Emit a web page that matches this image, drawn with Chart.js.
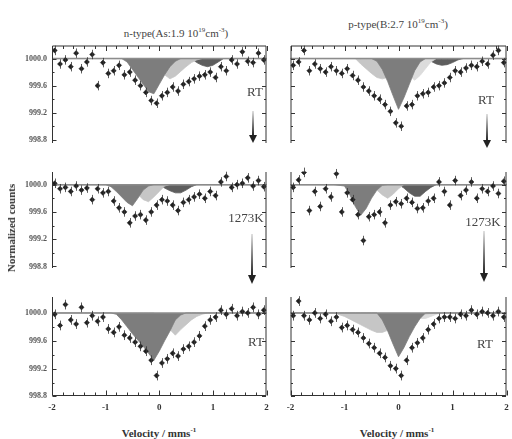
<!DOCTYPE html>
<html>
<head>
<meta charset="utf-8">
<script src="https://cdn.jsdelivr.net/npm/chart.js@4.4.1/dist/chart.umd.min.js"></script>
<style>
  html, body { margin:0; padding:0; background:#fff; }
  #wrap { position:relative; width:512px; height:439px; overflow:hidden;
          font-family:"Liberation Serif","DejaVu Serif",serif; color:#333; }
  #wrap canvas { position:absolute; }
  .t { position:absolute; white-space:nowrap; transform:translate(-50%,-50%); }
  .ttl { font-size:11px; color:#444; }
  .ax { font-size:11px; font-weight:bold; color:#333; }
  .lab { font-size:13px; color:#444; }
  sup { font-size:7px; vertical-align:5px; }
  svg { position:absolute; left:0; top:0; }
</style>
</head>
<body>
<div id="wrap">
  <div class="t ttl" style="left:176px;top:32px">n-type(As:1.9 10<sup>19</sup>cm<sup>-3</sup>)</div>
  <div class="t ttl" style="left:398px;top:23px">p-type(B:2.7 10<sup>19</sup>cm<sup>-3</sup>)</div>
  <div class="t ax" style="left:11px;top:228px;transform:translate(-50%,-50%) rotate(-90deg)">Normalized counts</div>
  <div class="t ax" style="left:159px;top:432px">Velocity / mms<sup>-1</sup></div>
  <div class="t ax" style="left:397px;top:432px">Velocity / mms<sup>-1</sup></div>
  <div class="t lab" style="left:255px;top:92px">RT</div>
  <div class="t lab" style="left:486px;top:100px">RT</div>
  <div class="t lab" style="left:246px;top:218px">1273K</div>
  <div class="t lab" style="left:483px;top:222px">1273K</div>
  <div class="t lab" style="left:256px;top:342px">RT</div>
  <div class="t lab" style="left:485px;top:344px">RT</div>
  <svg width="512" height="439">
    <defs>
      <linearGradient id="ag" x1="0" y1="0" x2="0" y2="1">
        <stop offset="0" stop-color="#e0e0e0"/><stop offset="1" stop-color="#222"/>
      </linearGradient>
    </defs>
    <rect x="252" y="111" width="2" height="25" fill="url(#ag)"/><polygon points="249,135 257,135 253,143" fill="#222"/>
    <rect x="486" y="114" width="2" height="27" fill="url(#ag)"/><polygon points="483,140 491,140 487,148" fill="#222"/>
    <rect x="251" y="234" width="2" height="42" fill="url(#ag)"/><polygon points="248,275 256,275 252,284" fill="#222"/>
    <rect x="483" y="231" width="2" height="43" fill="url(#ag)"/><polygon points="480,273 488,273 484,282" fill="#222"/>
  </svg>
</div>

<script>
/* Mössbauer spectra; profundidades abaixo da linha de base 1000.0 */
const BASE = 1000.0;
const ERR = 0.07;

const X_TICKS = [-2, -1, 0, 1, 2];
const X_MINOR = [-1.8, -1.6, -1.4, -1.2, -0.8, -0.6, -0.4, -0.2, 0.2, 0.4, 0.6, 0.8, 1.2, 1.4, 1.6, 1.8];
const Y_TICKS = [1000.0, 999.6, 999.2, 998.8];
const Y_MINOR = [999.8, 999.4, 999.0];

/* pontos medidos */
const VEL_PTS = [-1.95,-1.85,-1.75,-1.65,-1.55,-1.45,-1.35,-1.25,-1.15,-1.05,-0.95,-0.85,-0.75,-0.65,-0.55,-0.45,-0.35,-0.25,-0.15,-0.05,
                  0.05,0.15,0.25,0.35,0.45,0.55,0.65,0.75,0.85,0.95,1.05,1.15,1.25,1.35,1.45,1.55,1.65,1.75,1.85,1.95];
const N_RT_PTS = [-0.12,0.08,0.02,0.12,-0.08,0.15,0.05,-0.06,0.40,0.06,0.22,0.18,0.10,0.24,0.20,0.32,0.40,0.50,0.62,0.66,
                  0.55,0.50,0.42,0.48,0.38,0.34,0.30,0.26,0.24,0.20,0.28,0.12,0.18,0.02,0.08,-0.10,0.04,0.06,-0.08,0.02];
const P_RT_PTS = [0.10,0.05,-0.12,0.18,0.08,0.15,0.20,0.12,0.18,0.22,0.15,0.25,0.32,0.42,0.48,0.55,0.60,0.68,0.78,0.95,
                  1.00,0.70,0.68,0.55,0.52,0.50,0.42,0.40,0.36,0.28,0.18,0.20,0.14,0.10,0.12,0.04,0.08,-0.05,-0.12,0.06];
const N_HT_PTS = [-0.02,0.06,0.04,0.10,0.02,0.08,0.05,0.22,0.06,0.12,0.10,0.24,0.34,0.40,0.56,0.46,0.44,0.52,0.40,0.30,
                  0.22,0.24,0.30,0.38,0.26,0.22,0.18,0.14,0.20,0.10,0.16,-0.04,-0.12,0.04,0.00,-0.02,-0.10,0.02,-0.06,0.03];
const P_HT_PTS = [0.04,-0.07,-0.18,0.38,0.10,0.32,0.06,0.18,-0.16,0.40,0.12,0.22,0.44,0.82,0.47,0.44,0.40,0.56,0.30,0.25,
                  0.28,0.20,0.26,0.35,0.34,0.24,0.20,-0.04,0.10,0.30,-0.06,0.16,0.08,-0.04,0.20,0.06,0.10,0.02,0.13,-0.05];
const N_AN_PTS = [0.02,0.18,-0.12,0.10,0.16,-0.08,0.14,0.04,0.12,0.06,0.23,0.28,0.20,0.32,0.36,0.42,0.48,0.55,0.68,0.90,
                  0.72,0.66,0.58,0.62,0.52,0.48,0.42,0.33,0.19,0.10,0.06,-0.04,0.02,-0.06,0.04,-0.02,0.00,-0.08,0.02,-0.04];
const P_AN_PTS = [0.04,-0.17,0.04,0.10,0.00,0.08,0.02,0.12,0.06,0.21,0.18,0.24,0.28,0.36,0.44,0.50,0.58,0.64,0.76,0.80,
                  0.90,0.68,0.50,0.43,0.36,0.24,0.16,0.08,0.06,0.06,0.08,0.02,0.04,-0.04,0.02,-0.02,0.00,0.04,-0.02,0.06];

/* componentes do ajuste */
const V_FIT = [-2.0,-1.4,-1.2,-1.0,-0.9,-0.8,-0.7,-0.6,-0.5,-0.4,-0.3,-0.2,-0.1,0.0,0.1,0.2,0.3,0.4,0.5,0.6,0.7,0.8,0.9,1.0,1.1,1.2,1.4,2.0];
const N_RT_MAIN  = [0,0,0,0,0,0,0,0.05,0.16,0.27,0.38,0.49,0.52,0.38,0.24,0.12,0.04,0,0,0,0,0,0,0,0,0,0,0];
const N_RT_LIGHT = [0,0,0,0,0,0,0,0,0,0,0,0.04,0.10,0.17,0.24,0.30,0.26,0.19,0.12,0.06,0.02,0,0,0,0,0,0,0];
const N_RT_DARK  = [0,0,0,0,0,0,0,0,0,0,0,0,0,0,0,0,0,0,0,0,0.06,0.10,0.12,0.10,0.05,0,0,0];
const P_RT_MAIN  = [0,0,0,0,0,0,0,0,0,0.04,0.16,0.34,0.55,0.75,0.58,0.38,0.18,0.05,0,0,0,0,0,0,0,0,0,0];
const P_RT_LIGHT = [0,0,0,0,0,0,0.08,0.15,0.22,0.28,0.30,0.28,0.20,0.10,0.02,0,0,0,0,0,0,0,0,0,0,0,0,0];
const P_RT_PALE  = [0,0,0,0,0,0,0,0,0,0,0,0,0,0.05,0.15,0.25,0.32,0.25,0.15,0.05,0,0,0,0,0,0,0,0];
const P_RT_DARK  = [0,0,0,0,0,0,0,0,0,0,0,0,0,0,0,0,0,0,0,0.04,0.08,0.10,0.09,0.06,0.02,0,0,0];
const N_HT_MAIN  = [0,0,0,0,0.03,0.10,0.18,0.26,0.31,0.20,0.08,0.02,0,0,0,0,0,0,0,0,0,0,0,0,0,0,0,0];
const N_HT_LIGHT = [0,0,0,0,0,0,0,0,0.06,0.14,0.22,0.25,0.18,0.10,0.02,0,0,0,0,0,0,0,0,0,0,0,0,0];
const N_HT_DARK  = [0,0,0,0,0,0,0,0,0,0,0,0,0,0,0.05,0.09,0.12,0.12,0.08,0.03,0,0,0,0,0,0,0,0];
const P_HT_MAIN  = [0,0,0,0.02,0.15,0.32,0.45,0.35,0.20,0.08,0.01,0,0,0,0,0,0,0,0,0,0,0,0,0,0,0,0,0];
const P_HT_LIGHT = [0,0,0,0,0,0,0,0,0.02,0.08,0.15,0.20,0.14,0.06,0,0,0,0,0,0,0,0,0,0,0,0,0,0];
const P_HT_DARK  = [0,0,0,0,0,0,0,0,0,0,0,0,0,0,0.05,0.12,0.17,0.17,0.10,0.04,0,0,0,0,0,0,0,0];
const N_AN_MAIN  = [0,0,0,0,0,0.02,0.10,0.20,0.30,0.39,0.48,0.58,0.68,0.55,0.40,0.26,0.10,0.03,0,0,0,0,0,0,0,0,0,0];
const N_AN_LIGHT = [0,0,0,0,0,0,0,0,0,0,0,0,0,0.06,0.14,0.24,0.32,0.24,0.17,0.10,0.05,0.02,0,0,0,0,0,0];
const P_AN_MAIN  = [0,0,0,0,0,0,0,0,0,0,0.10,0.26,0.45,0.63,0.50,0.34,0.20,0.08,0,0,0,0,0,0,0,0,0,0];
const P_AN_LIGHT = [0,0,0,0.05,0.09,0.13,0.17,0.21,0.25,0.28,0.28,0.25,0.20,0.16,0.12,0.09,0.06,0.04,0.02,0.01,0,0,0,0,0,0,0,0];
const P_AN_PALE  = [0,0,0,0,0,0,0,0,0,0,0,0,0,0,0,0,0.06,0.08,0.08,0.05,0.02,0,0,0,0,0,0,0];

const C_MAIN = '#7d7d7d', C_LIGHT = '#c6c6c6', C_PALE = '#dcdcdc', C_DARK = '#5e5e5e';

/* layout (posições em px da página) */
const COLS = [
  { left:0,   width:271, padL:0, padR:1, yLabels:true  },
  { left:286, width:225, padL:1, padR:2, yLabels:false }
];
const ROWS = [
  { top:42,  bottom:147, min:998.745, max:1000.193, topLine:true },
  { top:168, bottom:272, min:998.770, max:1000.193 },
  { top:293, bottom:396, min:998.806, max:1000.236, xAxis:true }
];

const PANELS = [
  { col:0, row:0, pts:N_RT_PTS, comps:[[N_RT_MAIN,C_MAIN,2],[N_RT_LIGHT,C_LIGHT,3],[N_RT_DARK,C_DARK,3]] },
  { col:1, row:0, pts:P_RT_PTS, comps:[[P_RT_MAIN,C_MAIN,2],[P_RT_LIGHT,C_LIGHT,3],[P_RT_PALE,C_PALE,3],[P_RT_DARK,C_DARK,3]] },
  { col:0, row:1, pts:N_HT_PTS, comps:[[N_HT_MAIN,C_MAIN,2],[N_HT_LIGHT,C_LIGHT,3],[N_HT_DARK,C_DARK,3]] },
  { col:1, row:1, pts:P_HT_PTS, comps:[[P_HT_MAIN,C_MAIN,2],[P_HT_LIGHT,C_LIGHT,3],[P_HT_DARK,C_DARK,3]] },
  { col:0, row:2, pts:N_AN_PTS, comps:[[N_AN_MAIN,C_MAIN,2],[N_AN_LIGHT,C_LIGHT,3]] },
  { col:1, row:2, pts:P_AN_PTS, comps:[[P_AN_MAIN,C_MAIN,2],[P_AN_LIGHT,C_LIGHT,3],[P_AN_PALE,C_PALE,4]] }
];

Chart.defaults.font.family = '"Liberation Serif","DejaVu Serif",serif';

/* barras de erro verticais nos pontos */
const errorBars = {
  id:'errorBars',
  afterDatasetsDraw(chart){
    const ctx = chart.ctx, y = chart.scales.y;
    chart.data.datasets.forEach((ds, i) => {
      if (!ds.errorBars) return;
      const meta = chart.getDatasetMeta(i);
      ctx.save(); ctx.strokeStyle = '#333'; ctx.lineWidth = 0.8;
      meta.data.forEach((el, j) => {
        const v = ds.data[j].y;
        const x = Math.round(el.x) + 0.5;
        ctx.beginPath();
        ctx.moveTo(x, y.getPixelForValue(v + ERR));
        ctx.lineTo(x, y.getPixelForValue(v - ERR));
        ctx.stroke();
      });
      ctx.restore();
    });
  }
};

/* moldura com ticks para dentro */
const frame = {
  id:'frame',
  afterDraw(chart, args, o){
    const { ctx, chartArea:a, scales:{ x, y } } = chart;
    ctx.save(); ctx.strokeStyle = '#333'; ctx.lineWidth = 1;
    const L = a.left + 0.5, R = a.right - 0.5, T = a.top + 0.5, B = a.bottom - 0.5;
    ctx.beginPath();
    ctx.moveTo(L, T); ctx.lineTo(L, B);
    ctx.moveTo(R, T); ctx.lineTo(R, B);
    if (o.top){ ctx.moveTo(L, T); ctx.lineTo(R, T); }
    if (o.bottom){ ctx.moveTo(L, B); ctx.lineTo(R, B); }
    const yt = (vals, len) => vals.forEach(v => {
      const py = Math.round(y.getPixelForValue(v)) + 0.5;
      ctx.moveTo(L, py); ctx.lineTo(L + len, py);
      ctx.moveTo(R, py); ctx.lineTo(R - len, py);
    });
    yt(Y_TICKS, 4); yt(Y_MINOR, 2);
    const xt = (vals, len) => vals.forEach(v => {
      const px = Math.round(x.getPixelForValue(v)) + 0.5;
      if (o.top){ ctx.moveTo(px, T); ctx.lineTo(px, T + len); }
      if (o.bottom){ ctx.moveTo(px, B); ctx.lineTo(px, B - len); }
    });
    xt(X_TICKS, 5); xt(X_MINOR, 3);
    ctx.stroke(); ctx.restore();
  }
};

function makePanel(p){
  const col = COLS[p.col], row = ROWS[p.row];
  const xh = row.xAxis ? 24 : 0;
  const yw = col.yLabels ? 52 : 0;
  const cv = document.createElement('canvas');
  cv.width = col.width;
  cv.height = row.bottom - row.top + 2 + xh;
  cv.style.left = col.left + 'px';
  cv.style.top = (row.top - 1) + 'px';
  document.getElementById('wrap').prepend(cv);

  const datasets = [
    { type:'scatter', data: VEL_PTS.map((v, i) => ({ x:v, y: BASE - p.pts[i] })),
      pointStyle:'rectRot', pointRadius:2.6, backgroundColor:'#1e1e1e', borderColor:'#1e1e1e',
      borderWidth:0.5, errorBars:true, order:0 },
    { type:'line', data: [{ x:-2, y:BASE }, { x:2, y:BASE }],
      borderColor:'#8c8c8c', borderWidth:1.5, pointRadius:0, order:1 }
  ];
  p.comps.forEach(([dip, color, ord]) => datasets.push({
    type:'line', data: V_FIT.map((v, i) => ({ x:v, y: BASE - dip[i] })),
    borderColor: color, borderWidth:0.8, backgroundColor: color, fill:{ value: BASE },
    pointRadius:0, tension:0, order: ord
  }));

  new Chart(cv, {
    type:'line',
    data:{ datasets },
    options:{
      responsive:false, animation:false, events:[],
      layout:{ padding:{ top:1, bottom:1, left:col.padL, right:col.padR } },
      plugins:{ legend:{ display:false }, tooltip:{ enabled:false },
                frame:{ top: !!row.topLine, bottom: !!row.xAxis } },
      scales:{
        x:{ type:'linear', min:-2, max:2, display: !!row.xAxis,
            grid:{ display:false, drawTicks:false }, border:{ display:false },
            afterBuildTicks: s => { s.ticks = X_TICKS.map(v => ({ value:v })); },
            ticks:{ font:{ size:9, weight:'bold' }, color:'#333', padding:6 },
            afterFit: s => { s.height = xh; s.paddingLeft = 0; s.paddingRight = 0; } },
        y:{ min: row.min, max: row.max, display: col.yLabels,
            grid:{ display:false, drawTicks:false }, border:{ display:false },
            afterBuildTicks: s => { s.ticks = Y_TICKS.map(v => ({ value:v })); },
            ticks:{ callback: v => Number(v).toFixed(1), font:{ size:8, weight:'bold' }, color:'#555', padding:5 },
            afterFit: s => { s.width = yw; s.paddingTop = 0; s.paddingBottom = 0; } }
      }
    },
    plugins:[errorBars, frame]
  });
}

PANELS.forEach(makePanel);
</script>
</body>
</html>
